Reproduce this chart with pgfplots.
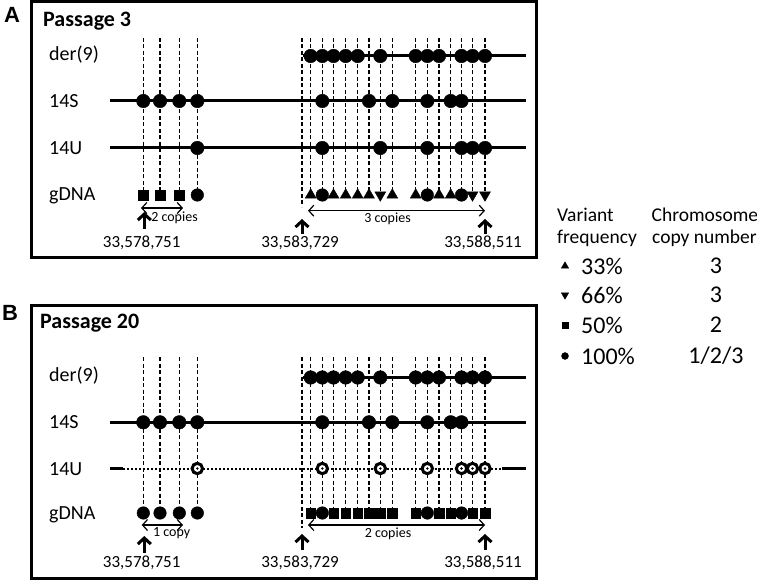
\documentclass[border=0pt]{standalone}
\usepackage{pgfplots}
\pgfplotsset{compat=1.18}
\usetikzlibrary{arrows.meta}
\usepackage{fontspec}
\setmainfont{Carlito}
\newfontfamily\arialf{Liberation Sans}
\tikzset{
  lab/.style={font=\fontsize{20}{22}\selectfont,anchor=west,inner sep=0pt},
  crd/.style={font=\fontsize{17}{20}\selectfont,inner sep=0pt},
  cop/.style={font=\fontsize{14}{16}\selectfont,inner sep=0pt},
  leg/.style={font=\fontsize{19.5}{22}\selectfont,inner sep=0pt},
  lgb/.style={font=\fontsize{24}{26}\selectfont,inner sep=0pt},
  pas/.style={font=\bfseries\fontsize{22}{24}\selectfont,anchor=west,inner sep=0pt},
}
\pgfplotsset{
  dl/.style={black,line width=1.2pt,dash pattern=on 4pt off 2.5pt,mark=none},
  rl/.style={black,line width=3pt,mark=none},
  dot/.style={only marks,mark=*,mark size=6.8pt,black},
  gdot/.style={only marks,mark=*,mark size=6.3pt,black},
  hol/.style={only marks,mark=*,mark size=5.2pt,mark options={draw=black,fill=white,line width=3pt},black},
  sq/.style={only marks,mark=square*,mark size=4.8pt,black},
  tri/.style={only marks,mark=triangle*,mark size=6.3pt,black},
  trd/.style={only marks,mark=triangle*,mark size=6.3pt,mark options={rotate=180},black},
  dar/.style={black,line width=1.2pt,mark=none,{Straight Barb[length=5pt,width=11pt]}-{Straight Barb[length=5pt,width=11pt]}},
  uar/.style={black,line width=3pt,mark=none,-{Straight Barb[length=6pt,width=13pt]}},
}
\begin{document}
\begin{tikzpicture}
\begin{axis}[width=757pt,height=580pt,scale only axis,xmin=0,xmax=757,ymin=0,ymax=580,
  y dir=reverse,hide axis,clip=false]
% ---------------- Panel A ----------------
\pgfplotsinvokeforeach{143.3,160,179.3,197.3,310.7,322.3,333.5,345.7,357.7,369,380.3,392.3,415.7,427.3,439,450.7,461.5,472.5,485}{
  \addplot[dl] coordinates {(#1,38) (#1,192)};
}
\addplot[dl] coordinates {(302,38) (302,207)};
\addplot[rl] coordinates {(303,56) (526,56)};
\addplot[rl] coordinates {(110,101) (526,101)};
\addplot[rl] coordinates {(110,148) (526,148)};
% der(9)
\addplot[dot] coordinates {(310.7,56) (322.3,56) (333.5,56) (345.7,56) (357.7,56) (380.3,56) (415.7,56) (427.3,56) (439,56) (461.5,56) (472.5,56) (485,56)};
% 14S
\addplot[dot] coordinates {(143.3,101) (160,101) (179.3,101) (197.3,101) (322.3,101) (369,101) (392.3,101) (427.3,101) (450.7,101) (461.5,101)};
% 14U
\addplot[dot] coordinates {(197.3,148) (322.3,148) (380.3,148) (427.3,148) (461.5,148) (472.5,148) (485,148)};
% gDNA
\addplot[sq] coordinates {(143.3,195) (160,195) (179.3,195)};
\addplot[gdot] coordinates {(197.3,195) (322.3,195) (427.3,195) (461.5,195)};
\addplot[tri] coordinates {(310.7,195) (333.5,195) (345.7,195) (357.7,195) (369,195) (392.3,195) (415.7,195) (439,195) (450.7,195)};
\addplot[trd] coordinates {(380.3,195) (472.5,195) (485,195)};
% arrows
\addplot[dar] coordinates {(141,208) (183,208)};
\addplot[dar] coordinates {(308,210.7) (485,210.7)};
\addplot[uar] coordinates {(144.3,229) (144.3,212)};
\addplot[uar] coordinates {(302,234) (302,219)};
\addplot[uar] coordinates {(485,234) (485,219)};
\draw[black,line width=3pt] (axis cs:31.5,1.5) rectangle (axis cs:536.5,257.5);
\node[inner sep=0pt,font=\arialf\bfseries\fontsize{22}{24}\selectfont] at (axis cs:12,15) {A};
\node[pas] at (axis cs:43,20.7) {Passage 3};
\node[lab] at (axis cs:49,55) {der(9)};
\node[lab] at (axis cs:49,101) {14S};
\node[lab] at (axis cs:49,148) {14U};
\node[lab] at (axis cs:49,196) {gDNA};
\node[cop] at (axis cs:174.5,218) {2 copies};
\node[cop] at (axis cs:387.5,219) {3 copies};
\node[crd] at (axis cs:141.7,243) {33,578,751};
\node[crd] at (axis cs:300,243) {33,583,729};
\node[crd] at (axis cs:483,243) {33,588,511};
% ---------------- Panel B ----------------
\pgfplotsinvokeforeach{143.3,160,179.3,197.3,310.7,322.3,333.5,345.7,357.7,369,380.3,392.3,415.7,427.3,439,450.7,461.5,472.5,485}{
  \addplot[dl] coordinates {(#1,357) (#1,510)};
}
\addplot[dl] coordinates {(302,357) (302,528)};
\addplot[rl] coordinates {(303,377.5) (526,377.5)};
\addplot[rl] coordinates {(110,422.3) (526,422.3)};
\addplot[rl] coordinates {(110,468.5) (123,468.5)};
\addplot[black,line width=2pt,dash pattern=on 2pt off 2pt,mark=none] coordinates {(123,468.5) (502,468.5)};
\addplot[rl] coordinates {(502,468.5) (526,468.5)};
\addplot[dot] coordinates {(310.7,377.5) (322.3,377.5) (333.5,377.5) (345.7,377.5) (357.7,377.5) (380.3,377.5) (415.7,377.5) (427.3,377.5) (439,377.5) (461.5,377.5) (472.5,377.5) (485,377.5)};
\addplot[dot] coordinates {(143.3,422.3) (160,422.3) (179.3,422.3) (197.3,422.3) (322.3,422.3) (369,422.3) (392.3,422.3) (427.3,422.3) (450.7,422.3) (461.5,422.3)};
\addplot[hol] coordinates {(197.3,468.5) (322.3,468.5) (380.3,468.5) (427.3,468.5) (461.5,468.5) (472.5,468.5) (485,468.5)};
\addplot[only marks,mark=*,mark size=1pt,black] coordinates {(197.3,468.5) (322.3,468.5) (380.3,468.5) (427.3,468.5) (461.5,468.5) (472.5,468.5) (485,468.5)};
\addplot[gdot] coordinates {(143.3,513) (160,513) (179.3,513) (197.3,513) (322.3,513) (427.3,513) (461.5,513)};
\addplot[sq] coordinates {(310.7,513) (333.5,513) (345.7,513) (357.7,513) (369,513) (380.3,513) (392.3,513) (415.7,513) (439,513) (450.7,513) (472.5,513) (485,513)};
\addplot[dar] coordinates {(141.7,525) (183,525)};
\addplot[dar] coordinates {(308,525) (485,525)};
\addplot[uar] coordinates {(144.3,553) (144.3,536)};
\addplot[uar] coordinates {(302,550) (302,534)};
\addplot[uar] coordinates {(485,550) (485,534)};
\draw[black,line width=3pt] (axis cs:31.5,305) rectangle (axis cs:536.5,578);
\node[inner sep=0pt,font=\arialf\bfseries\fontsize{22}{24}\selectfont] at (axis cs:10,313) {B};
\node[pas] at (axis cs:40,323) {Passage 20};
\node[lab] at (axis cs:49,376) {der(9)};
\node[lab] at (axis cs:49,422) {14S};
\node[lab] at (axis cs:49,469) {14U};
\node[lab] at (axis cs:49,515) {gDNA};
\node[cop] at (axis cs:171.7,533) {1 copy};
\node[cop] at (axis cs:388,534) {2 copies};
\node[crd] at (axis cs:141.7,563) {33,578,751};
\node[crd] at (axis cs:300,563) {33,583,729};
\node[crd] at (axis cs:483,563) {33,588,511};
% ---------------- Legend ----------------
\node[leg,anchor=west] at (axis cs:557,215) {Variant};
\node[leg,anchor=west] at (axis cs:557,238) {frequency};
\node[leg,anchor=west] at (axis cs:651.5,215) {Chromosome};
\node[leg,anchor=west] at (axis cs:652,238) {copy number};
\addplot[only marks,mark=triangle*,mark size=4.2pt,black] coordinates {(565,266)};
\addplot[only marks,mark=triangle*,mark size=4.2pt,mark options={rotate=180},black] coordinates {(565,295)};
\addplot[only marks,mark=square*,mark size=3.3pt,black] coordinates {(565,325)};
\addplot[only marks,mark=*,mark size=3.5pt,black] coordinates {(565,356)};
\node[lgb,anchor=west] at (axis cs:581,266) {33\%};
\node[lgb,anchor=west] at (axis cs:581,295) {66\%};
\node[lgb,anchor=west] at (axis cs:581,325) {50\%};
\node[lgb,anchor=west] at (axis cs:581,356) {100\%};
\node[lgb] at (axis cs:716,266) {3};
\node[lgb] at (axis cs:716,295) {3};
\node[lgb] at (axis cs:716,325) {2};
\node[lgb] at (axis cs:716,356) {1/2/3};
\end{axis}
\pgfresetboundingbox
\path (0,0) rectangle (757pt,580pt);
\end{tikzpicture}
\end{document}
